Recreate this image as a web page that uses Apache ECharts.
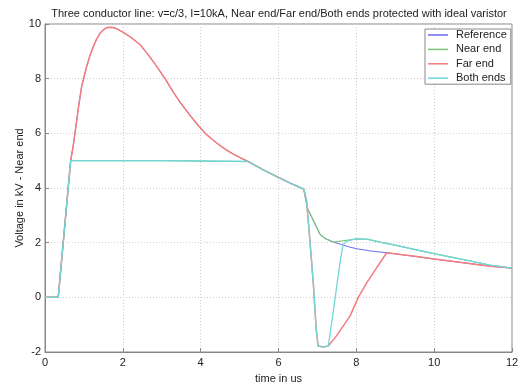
<!DOCTYPE html>
<html>
<head>
<meta charset="utf-8">
<script src="https://cdn.jsdelivr.net/npm/echarts@6/dist/echarts.min.js"></script>
<style>html,body{margin:0;padding:0;background:#fff}#c{width:528px;height:389px}</style>
</head>
<body>
<div id="c"></div>
<script>
var titleText = 'Three conductor line: v=c/3, I=10kA, Near end/Far end/Both ends protected with ideal varistor';
var xName = 'time in us';
var yName = 'Voltage in kV - Near end';
var seriesNames = ['Reference', 'Near end', 'Far end', 'Both ends'];
var xTicks = [0, 2, 4, 6, 8, 10, 12];
var yTicks = [-2, 0, 2, 4, 6, 8, 10];

// Reference (unprotected)
var refX = [0, 0.34, 0.66, 0.72, 0.78, 0.86, 0.94, 1.0, 1.07, 1.15, 1.24, 1.32, 1.41, 1.5, 1.59, 1.72, 1.84, 2.0, 2.2, 2.44, 2.65, 2.87, 3.1, 3.3, 3.5, 3.73, 3.95, 4.15, 4.35, 4.5, 4.65, 4.83, 5.0, 5.22, 5.6, 5.95, 6.3, 6.65, 6.74, 6.9, 7.07, 7.2, 7.41, 7.6, 7.8, 8.0, 8.4, 8.78, 9.5, 10.0, 10.5, 11.0, 11.5, 12];
var refY = [0, 0, 5.0, 5.5, 6.1, 6.95, 7.7, 8.05, 8.44, 8.82, 9.17, 9.43, 9.65, 9.79, 9.87, 9.88, 9.83, 9.70, 9.52, 9.25, 8.88, 8.45, 7.97, 7.5, 7.08, 6.65, 6.27, 5.95, 5.72, 5.55, 5.4, 5.25, 5.12, 4.97, 4.67, 4.42, 4.18, 3.96, 3.27, 2.8, 2.30, 2.15, 2.02, 1.94, 1.85, 1.78, 1.69, 1.63, 1.50, 1.40, 1.31, 1.22, 1.13, 1.07];

// Near end protected
var nearX = [0, 0.34, 0.66, 3.0, 5.22, 5.6, 5.95, 6.3, 6.65, 6.74, 6.9, 7.07, 7.2, 7.41, 7.66, 7.84, 8.0, 8.3, 8.61, 9.0, 9.5, 10.02, 10.5, 11.0, 11.43, 12];
var nearY = [0, 0, 5.0, 5.0, 4.97, 4.67, 4.42, 4.18, 3.96, 3.27, 2.8, 2.30, 2.15, 2.02, 2.07, 2.10, 2.14, 2.12, 2.02, 1.91, 1.75, 1.59, 1.45, 1.31, 1.18, 1.07];

// Far end protected
var farX = [0, 0.34, 0.66, 0.72, 0.78, 0.86, 0.94, 1.0, 1.07, 1.15, 1.24, 1.32, 1.41, 1.5, 1.59, 1.72, 1.84, 2.0, 2.2, 2.44, 2.65, 2.87, 3.1, 3.3, 3.5, 3.73, 3.95, 4.15, 4.35, 4.5, 4.65, 4.83, 5.0, 5.22, 5.6, 5.95, 6.3, 6.65, 6.72, 6.8, 6.9, 6.97, 7.02, 7.15, 7.28, 7.49, 7.84, 8.05, 8.27, 8.52, 8.78, 9.5, 10.0, 10.5, 11.0, 11.5, 12];
var farY = [0, 0, 5.0, 5.5, 6.1, 6.95, 7.7, 8.05, 8.44, 8.82, 9.17, 9.43, 9.65, 9.79, 9.87, 9.88, 9.83, 9.70, 9.52, 9.25, 8.88, 8.45, 7.97, 7.5, 7.08, 6.65, 6.27, 5.95, 5.72, 5.55, 5.4, 5.25, 5.12, 4.97, 4.67, 4.42, 4.18, 3.96, 3.55, 2.2, 0.4, -1.2, -1.78, -1.82, -1.78, -1.41, -0.68, 0.0, 0.54, 1.08, 1.63, 1.50, 1.40, 1.31, 1.22, 1.13, 1.07];

// Both ends protected
var bothX = [0, 0.34, 0.66, 3.0, 5.22, 5.6, 5.95, 6.3, 6.65, 6.72, 6.8, 6.9, 6.97, 7.02, 7.15, 7.28, 7.4, 7.5, 7.6, 7.66, 7.75, 7.84, 8.0, 8.3, 8.61, 9.0, 9.5, 10.02, 10.5, 11.0, 11.43, 12];
var bothY = [0, 0, 5.0, 5.0, 4.97, 4.67, 4.42, 4.18, 3.96, 3.55, 2.2, 0.4, -1.2, -1.78, -1.82, -1.78, -0.6, 0.45, 1.45, 1.93, 2.05, 2.09, 2.14, 2.12, 2.02, 1.91, 1.75, 1.59, 1.45, 1.31, 1.18, 1.07];

var colors = ['#6b6bf0', '#7cc47c', '#f47c7c', '#6fd6da'];
var widths = [1, 1.2, 1.5, 1.3];

function zip(xs, ys) { return xs.map(function (x, i) { return [x, ys[i]]; }); }
var allX = [refX, nearX, farX, bothX];
var allY = [refY, nearY, farY, bothY];

var chart = echarts.init(document.getElementById('c'), null, {renderer: 'canvas'});
var font = 'Liberation Sans, Arial, sans-serif';
chart.setOption({
  backgroundColor: '#fff',
  animation: false,
  textStyle: {fontFamily: font},
  title: {
    text: titleText, left: 274, top: 3, textAlign: 'center',
    textStyle: {fontSize: 11, fontWeight: 'normal', color: '#222', fontFamily: font}
  },
  legend: {
    data: seriesNames, orient: 'vertical', left: 425, top: 29,
    backgroundColor: '#fff', borderColor: '#888', borderWidth: 1,
    padding: [0, 4, 0, 3], itemWidth: 20, itemHeight: 1.5, itemGap: 2.4, icon: 'rect',
    textStyle: {fontSize: 11, color: '#222', lineHeight: 12, height: 12, fontFamily: font, padding: [0, 0, 0, 3]}
  },
  grid: {left: 45, right: 16, top: 24, bottom: 36, show: true, borderColor: '#888', borderWidth: 1, backgroundColor: '#fff'},
  xAxis: {
    type: 'value', min: xTicks[0], max: xTicks[xTicks.length - 1], interval: 2,
    name: xName, nameLocation: 'middle', nameGap: 21, nameMoveOverlap: false,
    nameTextStyle: {fontSize: 11, color: '#222', fontFamily: font},
    axisLine: {show: true, onZero: false, lineStyle: {color: '#888'}},
    axisTick: {show: true, inside: true, length: 4, lineStyle: {color: '#888'}},
    axisLabel: {fontSize: 11, color: '#222', margin: 5, fontFamily: font},
    splitLine: {show: true, lineStyle: {color: '#d0d0d0', type: [1, 2]}}
  },
  yAxis: {
    type: 'value', min: yTicks[0], max: yTicks[yTicks.length - 1], interval: 2,
    name: yName, nameLocation: 'middle', nameGap: 20, nameMoveOverlap: false,
    nameTextStyle: {fontSize: 11, color: '#222', fontFamily: font},
    axisLine: {show: true, onZero: false, lineStyle: {color: '#888'}},
    axisTick: {show: true, inside: true, length: 4, lineStyle: {color: '#888'}},
    axisLabel: {fontSize: 11, color: '#222', margin: 4, fontFamily: font},
    splitLine: {show: true, lineStyle: {color: '#d0d0d0', type: [1, 2]}}
  },
  series: seriesNames.map(function (n, i) {
    return {
      name: n, type: 'line', symbol: 'none', z: 2 + i,
      data: zip(allX[i], allY[i]),
      lineStyle: {width: widths[i], color: colors[i]}, itemStyle: {color: colors[i]}
    };
  })
});
</script>
</body>
</html>
